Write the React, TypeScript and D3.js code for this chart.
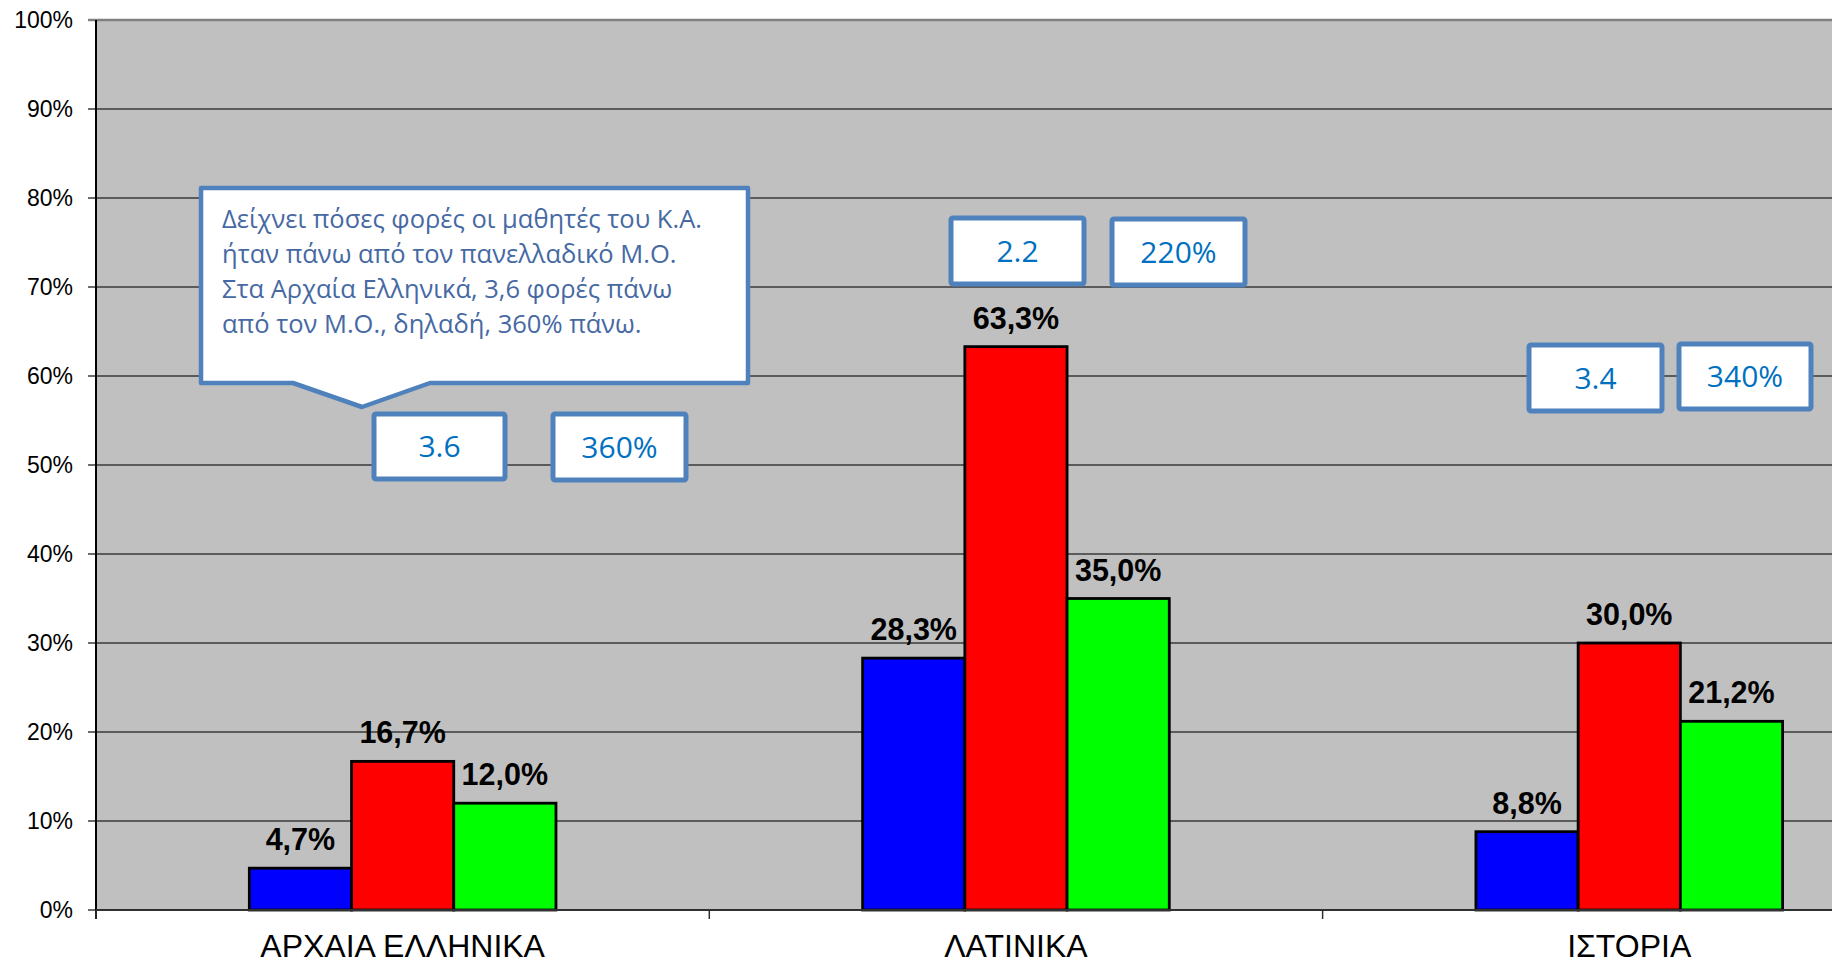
import React from "react";
import * as d3 from "d3";

const categories = ["ΑΡΧΑΙΑ ΕΛΛΗΝΙΚΑ", "ΛΑΤΙΝΙΚΑ", "ΙΣΤΟΡΙΑ"];
const seriesNames = ["s1", "s2", "s3"];
const seriesColors = ["#0000ff", "#ff0000", "#00ff00"];
const valuesS1 = [4.7, 28.3, 8.8];
const valuesS2 = [16.7, 63.3, 30.0];
const valuesS3 = [12.0, 35.0, 21.2];
const yTicks = [0, 10, 20, 30, 40, 50, 60, 70, 80, 90, 100];

const calloutLines = [
  "Δείχνει πόσες φορές οι μαθητές του Κ.Α.",
  "ήταν πάνω από τον πανελλαδικό Μ.Ο.",
  "Στα Αρχαία Ελληνικά, 3,6 φορές πάνω",
  "από τον Μ.Ο., δηλαδή, 360% πάνω.",
];

// ratio boxes: [label, left, top, right, bottom]
const ratioBoxes: [string, number, number, number, number][] = [
  ["3.6", 372, 412, 507, 481],
  ["360%", 551, 412, 688, 482],
  ["2.2", 949, 216, 1086, 286],
  ["220%", 1110, 217, 1247, 287],
  ["3.4", 1527, 343, 1664, 413],
  ["340%", 1677, 342, 1813, 411],
];

const W = 1832;
const H = 964;
const plotLeft = 96;
const catWidth = 613.3;
const plotTop = 20;
const plotBottom = 910;

export default function App() {
  const allSeries = [valuesS1, valuesS2, valuesS3];
  const x0 = d3
    .scaleBand<string>()
    .domain(categories)
    .range([plotLeft, plotLeft + catWidth * categories.length])
    .padding(0);
  const bw = x0.bandwidth();
  const x1 = d3
    .scaleBand<string>()
    .domain(seriesNames)
    .range([bw / 4, (bw * 3) / 4])
    .padding(0);
  const y = d3.scaleLinear().domain([0, 100]).range([plotBottom, plotTop]);
  const plotRight = plotLeft + catWidth * categories.length;
  const fmt = (v: number) => v.toFixed(1).replace(".", ",") + "%";

  const boundaries = categories.map((c) => x0(c)!).concat([plotRight]);

  return (
    <svg
      width={W}
      height={H}
      style={{ position: "fixed", left: 0, top: 0, background: "#ffffff" }}
    >
      <rect x={0} y={0} width={W} height={H} fill="#ffffff" />
      {/* plot area */}
      <rect
        x={plotLeft}
        y={plotTop}
        width={plotRight - plotLeft}
        height={plotBottom - plotTop}
        fill="#c0c0c0"
      />
      {/* gridlines */}
      {yTicks.map((t) => (
        <line
          key={"g" + t}
          x1={plotLeft - 8}
          x2={plotRight}
          y1={y(t)}
          y2={y(t)}
          stroke={t === 100 ? "#808080" : "#3a3a3a"}
          strokeWidth={t === 100 ? 2.5 : 1.4}
        />
      ))}
      {/* y tick labels */}
      {yTicks.map((t) => (
        <text
          key={"yl" + t}
          x={73}
          y={y(t)}
          dy="0.36em"
          textAnchor="end"
          fontFamily="Liberation Sans, Arial, sans-serif"
          fontSize={23}
          fill="#000"
        >
          {t + "%"}
        </text>
      ))}
      {/* bars */}
      {categories.map((c, ci) =>
        allSeries.map((vals, si) => {
          const bx = x0(c)! + x1(seriesNames[si])!;
          const by = y(vals[ci]);
          return (
            <rect
              key={"b" + ci + "-" + si}
              x={bx}
              y={by}
              width={x1.bandwidth()}
              height={plotBottom - by}
              fill={seriesColors[si]}
              stroke="#000"
              strokeWidth={2.8}
            />
          );
        })
      )}
      {/* bar labels */}
      {categories.map((c, ci) =>
        allSeries.map((vals, si) => {
          const bx = x0(c)! + x1(seriesNames[si])! + x1.bandwidth() / 2;
          return (
            <text
              key={"l" + ci + "-" + si}
              x={bx}
              y={y(vals[ci]) - 18}
              textAnchor="middle"
              fontFamily="Liberation Sans, Arial, sans-serif"
              fontWeight="bold"
              fontSize={30.5}
              fill="#000"
            >
              {fmt(vals[ci])}
            </text>
          );
        })
      )}
      {/* axes */}
      <line x1={plotLeft} x2={plotLeft} y1={plotTop} y2={plotBottom + 9} stroke="#000" strokeWidth={2} />
      <line x1={plotLeft} x2={plotRight} y1={plotBottom} y2={plotBottom} stroke="#303030" strokeWidth={2} />
      {boundaries.map((b, i) => (
        <line key={"xt" + i} x1={b} x2={b} y1={plotBottom} y2={plotBottom + 9} stroke="#303030" strokeWidth={1.5} />
      ))}
      {categories.map((c) => (
        <text
          key={"xl" + c}
          x={x0(c)! + bw / 2}
          y={957}
          textAnchor="middle"
          fontFamily="Liberation Sans, Arial, sans-serif"
          fontSize={32}
          fill="#000"
        >
          {c}
        </text>
      ))}
      {/* callout */}
      <path
        d="M201,188 L748,188 L748,383 L430,383 L362,407 L293,383 L201,383 Z"
        fill="#ffffff"
        stroke="#4f81bd"
        strokeWidth={4.5}
        strokeLinejoin="round"
      />
      {calloutLines.map((line, i) => (
        <text
          key={"cl" + i}
          x={222}
          y={228 + i * 35}
          fontFamily="Open Sans, Noto Sans, sans-serif"
          fontSize={25.5}
          fill="#4669a3"
        >
          {line}
        </text>
      ))}
      {/* ratio boxes */}
      {ratioBoxes.map(([label, l, t, r, b]) => (
        <g key={"rb" + label}>
          <rect
            x={l + 2}
            y={t + 2}
            width={r - l - 4}
            height={b - t - 4}
            rx={2}
            fill="#ffffff"
            stroke="#4f81bd"
            strokeWidth={5}
          />
          <text
            x={(l + r) / 2}
            y={(t + b) / 2}
            dy="0.36em"
            textAnchor="middle"
            fontFamily="Open Sans, Noto Sans, sans-serif"
            fontSize={30}
            fill="#0070c0"
          >
            {label}
          </text>
        </g>
      ))}
    </svg>
  );
}
